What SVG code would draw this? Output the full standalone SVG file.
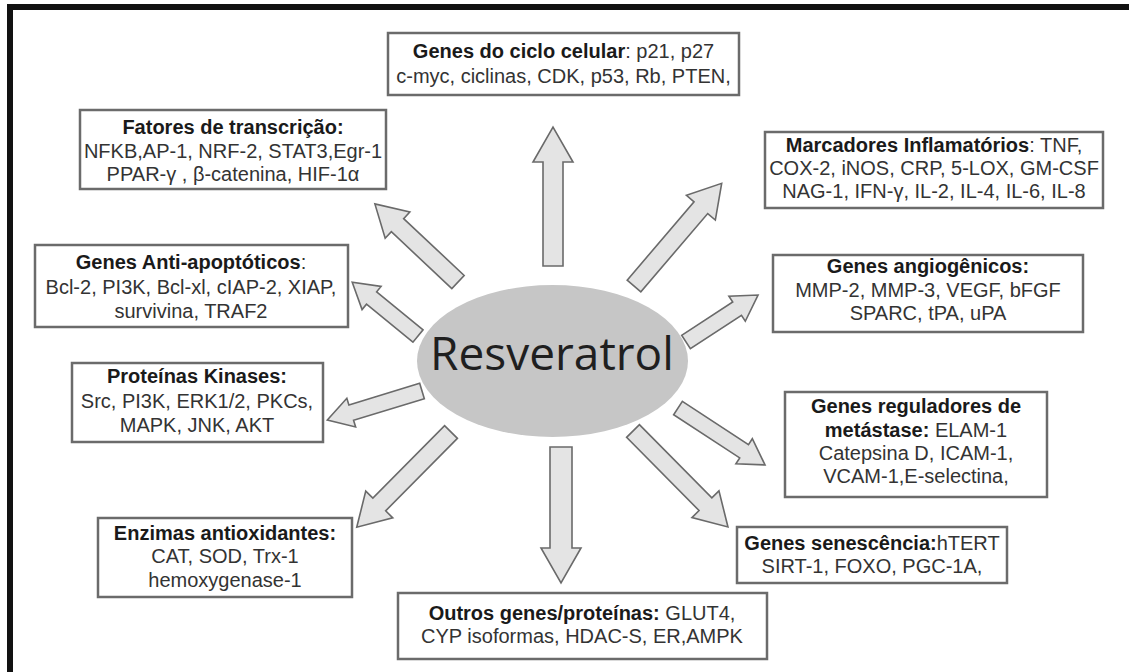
<svg xmlns="http://www.w3.org/2000/svg" width="1129" height="672" viewBox="0 0 1129 672">
<style>
.box{fill:#fff;stroke:#6b6b6b;stroke-width:2.5}
.t{font-family:"Liberation Sans",Arial,sans-serif;font-size:20px;fill:#333;text-anchor:middle}
.b{font-weight:bold;fill:#1a1a1a}
.arr{fill:#e4e4e4;stroke:#6a6a6a;stroke-width:1.6;stroke-linejoin:miter}
</style>
<rect x="0" y="0" width="1129" height="672" fill="#fff"/>
<path d="M10 680 V7 H1140" fill="none" stroke="#111" stroke-width="6"/>

<g id="connectors">
  <polygon class="arr" transform="translate(553,266) rotate(-90)" points="0,-10 104,-10 104,-20 139,0 104,20 104,10 0,10"/>
  <polygon class="arr" transform="translate(458,282) rotate(-136.8)" points="0,-9 83,-9 83,-18 114,0 83,18 83,9 0,9"/>
  <polygon class="arr" transform="translate(418,336) rotate(-140.7)" points="0,-8 60,-8 60,-15 85,0 60,15 60,8 0,8"/>
  <polygon class="arr" transform="translate(422,391) rotate(163)" points="0,-8 74,-8 74,-15 99,0 74,15 74,8 0,8"/>
  <polygon class="arr" transform="translate(451,432) rotate(134.7)" points="0,-9 102,-9 102,-19 134,0 102,19 102,9 0,9"/>
  <polygon class="arr" transform="translate(561,447) rotate(90)" points="0,-11 101,-11 101,-20 136,0 101,20 101,11 0,11"/>
  <polygon class="arr" transform="translate(633,431) rotate(45.3)" points="0,-9 103,-9 103,-19 135,0 103,19 103,9 0,9"/>
  <polygon class="arr" transform="translate(678,408) rotate(33.2)" points="0,-8 79,-8 79,-15 104,0 79,15 79,8 0,8"/>
  <polygon class="arr" transform="translate(686,342) rotate(-33.1)" points="0,-8 61,-8 61,-15 86,0 61,15 61,8 0,8"/>
  <polygon class="arr" transform="translate(634,286) rotate(-49.5)" points="0,-9 103,-9 103,-19 135,0 103,19 103,9 0,9"/>
</g>

<g id="resveratrol">
  <ellipse cx="552.5" cy="361" rx="135.5" ry="76" fill="#c6c6c6"/>
  <text x="552" y="370" font-family="'Open Sans',sans-serif" font-size="46" fill="#1f1f1f" text-anchor="middle">Resveratrol</text>
</g>

<g id="ciclo">
  <rect class="box" x="388" y="33" width="351" height="62"/>
  <text class="t" x="563.5" y="58"><tspan class="b">Genes do ciclo celular</tspan>: p21, p27</text>
  <text class="t" x="563.5" y="83">c-myc, ciclinas, CDK, p53, Rb, PTEN,</text>
</g>

<g id="transcricao">
  <rect class="box" x="80" y="110" width="306" height="79"/>
  <text class="t" x="233" y="134"><tspan class="b">Fatores de transcrição:</tspan></text>
  <text class="t" x="233" y="158">NFKB,AP-1, NRF-2, STAT3,Egr-1</text>
  <text class="t" x="233" y="181">PPAR-γ , β-catenina, HIF-1α</text>
</g>

<g id="inflamatorios">
  <rect class="box" x="765" y="132" width="338" height="76"/>
  <text class="t" x="934" y="152"><tspan class="b">Marcadores Inflamatórios</tspan>: TNF,</text>
  <text class="t" x="934" y="175">COX-2, iNOS, CRP, 5-LOX, GM-CSF</text>
  <text class="t" x="934" y="198">NAG-1, IFN-γ, IL-2, IL-4, IL-6, IL-8</text>
</g>

<g id="antiapoptoticos">
  <rect class="box" x="35" y="245" width="313" height="82"/>
  <text class="t" x="191" y="269"><tspan class="b">Genes Anti-apoptóticos</tspan>:</text>
  <text class="t" x="191" y="294">Bcl-2, PI3K, Bcl-xl, cIAP-2, XIAP,</text>
  <text class="t" x="191" y="318">survivina, TRAF2</text>
</g>

<g id="angiogenicos">
  <rect class="box" x="773" y="255" width="310" height="77"/>
  <text class="t" x="928" y="273"><tspan class="b">Genes angiogênicos:</tspan></text>
  <text class="t" x="928" y="297">MMP-2, MMP-3, VEGF, bFGF</text>
  <text class="t" x="928" y="320">SPARC, tPA, uPA</text>
</g>

<g id="kinases">
  <rect class="box" x="72" y="363" width="251" height="79"/>
  <text class="t" x="197" y="383"><tspan class="b">Proteínas Kinases:</tspan></text>
  <text class="t" x="197" y="408">Src, PI3K, ERK1/2, PKCs,</text>
  <text class="t" x="197" y="432">MAPK, JNK, AKT</text>
</g>

<g id="metastase">
  <rect class="box" x="785" y="392" width="262" height="105"/>
  <text class="t" x="916" y="413"><tspan class="b">Genes reguladores de</tspan></text>
  <text class="t" x="916" y="437"><tspan class="b">metástase:</tspan> ELAM-1</text>
  <text class="t" x="916" y="460">Catepsina D, ICAM-1,</text>
  <text class="t" x="916" y="483">VCAM-1,E-selectina,</text>
</g>

<g id="antioxidantes">
  <rect class="box" x="98" y="518" width="254" height="79"/>
  <text class="t" x="225" y="540"><tspan class="b">Enzimas antioxidantes:</tspan></text>
  <text class="t" x="225" y="563">CAT, SOD, Trx-1</text>
  <text class="t" x="225" y="587">hemoxygenase-1</text>
</g>

<g id="senescencia">
  <rect class="box" x="737" y="527" width="270" height="56"/>
  <text class="t" x="872" y="550"><tspan class="b">Genes senescência:</tspan>hTERT</text>
  <text class="t" x="872" y="573">SIRT-1, FOXO, PGC-1A,</text>
</g>

<g id="outros">
  <rect class="box" x="398" y="593" width="369" height="66"/>
  <text class="t" x="582" y="620"><tspan class="b">Outros genes/proteínas:</tspan> GLUT4,</text>
  <text class="t" x="582" y="643">CYP isoformas, HDAC-S, ER,AMPK</text>
</g>
</svg>
